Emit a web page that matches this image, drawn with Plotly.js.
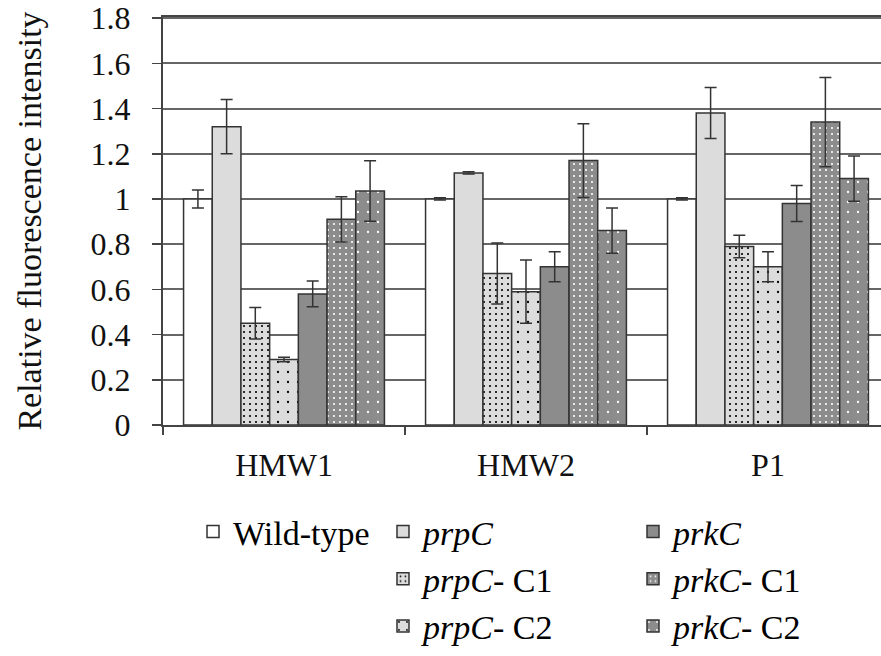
<!DOCTYPE html>
<html>
<head>
<meta charset="utf-8">
<script src="https://cdn.plot.ly/plotly-3.0.1.min.js"></script>
<style>html,body{margin:0;padding:0;background:#fff;}#chart{width:881px;height:656px;}</style>
</head>
<body>
<div id="chart"></div>
<script>
const categories = ["HMW1", "HMW2", "P1"];
const seriesNames = ["Wild-type", "<i>prpC</i>", "<i>prpC</i>- C1", "<i>prpC</i>- C2", "<i>prkC</i>", "<i>prkC</i>- C1", "<i>prkC</i>- C2"];
const wildType   = [1.00, 1.00, 1.00];
const prpC       = [1.32, 1.115, 1.38];
const prpC_C1    = [0.45, 0.67, 0.79];
const prpC_C2    = [0.29, 0.59, 0.70];
const prkC       = [0.58, 0.70, 0.98];
const prkC_C1    = [0.91, 1.17, 1.34];
const prkC_C2    = [1.035, 0.86, 1.09];
const wildTypeErr = [0.04, 0.005, 0.005];
const prpCErr     = [0.12, 0.005, 0.113];
const prpC_C1Err  = [0.07, 0.135, 0.05];
const prpC_C2Err  = [0.01, 0.14, 0.066];
const prkCErr     = [0.057, 0.066, 0.08];
const prkC_C1Err  = [0.10, 0.163, 0.197];
const prkC_C2Err  = [0.134, 0.10, 0.10];
const yTickVals = [0, 0.2, 0.4, 0.6, 0.8, 1, 1.2, 1.4, 1.6, 1.8];
const yTickText = ["0", "0.2", "0.4", "0.6", "0.8", "1", "1.2", "1.4", "1.6", "1.8"];

const values = [wildType, prpC, prpC_C1, prpC_C2, prkC, prkC_C1, prkC_C2];
const errors = [wildTypeErr, prpCErr, prpC_C1Err, prpC_C2Err, prkCErr, prkC_C1Err, prkC_C2Err];
const LIGHT = "#dcdcdc", DARK = "#8c8c8c";
const fills = ["#ffffff", LIGHT, LIGHT, LIGHT, DARK, DARK, DARK];
const patterns = [
  null, null,
  {shape: ".", fgcolor: "#000000", bgcolor: LIGHT, size: 6, solidity: 0.1},
  {shape: ".", fgcolor: "#000000", bgcolor: LIGHT, size: 10, solidity: 0.04},
  null,
  {shape: ".", fgcolor: "#ffffff", bgcolor: DARK, size: 6, solidity: 0.1},
  {shape: ".", fgcolor: "#ffffff", bgcolor: DARK, size: 10, solidity: 0.04}
];
const legendIds = ["legend", "legend2", "legend2", "legend2", "legend3", "legend3", "legend3"];

const FONT = "Liberation Serif";
const traces = values.map((v, i) => {
  const marker = {color: fills[i], line: {color: "#333333", width: 1.5}};
  if (patterns[i]) marker.pattern = Object.assign({fillmode: "replace"}, patterns[i]);
  return {
    type: "bar", name: seriesNames[i], x: categories, y: v,
    marker: marker,
    error_y: {type: "data", array: errors[i], visible: true, color: "#333333", thickness: 1.5, width: 6},
    legend: legendIds[i], legendgroup: "g" + i
  };
});

const legendBase = {
  orientation: "v", xanchor: "left", yanchor: "top", bgcolor: "rgba(0,0,0,0)",
  font: {family: FONT, size: 34, color: "#000"}, tracegroupgap: 0, traceorder: "grouped"
};
const layout = {
  width: 881, height: 656,
  margin: {l: 163, r: 0, t: 17, b: 231, autoexpand: false},
  paper_bgcolor: "#ffffff", plot_bgcolor: "#ffffff",
  barmode: "group", bargap: 0.17, bargroupgap: 0,
  font: {family: FONT, size: 32, color: "#111"},
  xaxis: {
    type: "category", range: [-0.5, 2.467], automargin: false,
    showline: true, linecolor: "#444", linewidth: 2, mirror: true,
    ticks: "outside", tickson: "boundaries", ticklen: 8, tickcolor: "#444", tickwidth: 1.5,
    ticklabelstandoff: 11,
    tickfont: {family: FONT, size: 32, color: "#111"}, showgrid: false, zeroline: false
  },
  yaxis: {
    range: [0, 1.805], tickmode: "array", tickvals: yTickVals, ticktext: yTickText, automargin: false,
    showline: true, linecolor: "#444", linewidth: 2,
    ticks: "outside", ticklen: 9, tickcolor: "#444", tickwidth: 1.5,
    ticklabelstandoff: 15,
    showgrid: true, gridcolor: "#666", gridwidth: 2, zeroline: false,
    tickfont: {family: FONT, size: 32, color: "#111"},
    title: {text: "Relative fluorescence intensity", font: {family: FONT, size: 34, color: "#111"}, standoff: 39}
  },
  legend: Object.assign({}, legendBase, {x: 0.0418, y: -0.191}),
  legend2: Object.assign({}, legendBase, {x: 0.3064, y: -0.191}),
  legend3: Object.assign({}, legendBase, {x: 0.6546, y: -0.191}),
  showlegend: true
};
Plotly.newPlot("chart", traces, layout, {displayModeBar: false, staticPlot: true});
</script>
</body>
</html>
